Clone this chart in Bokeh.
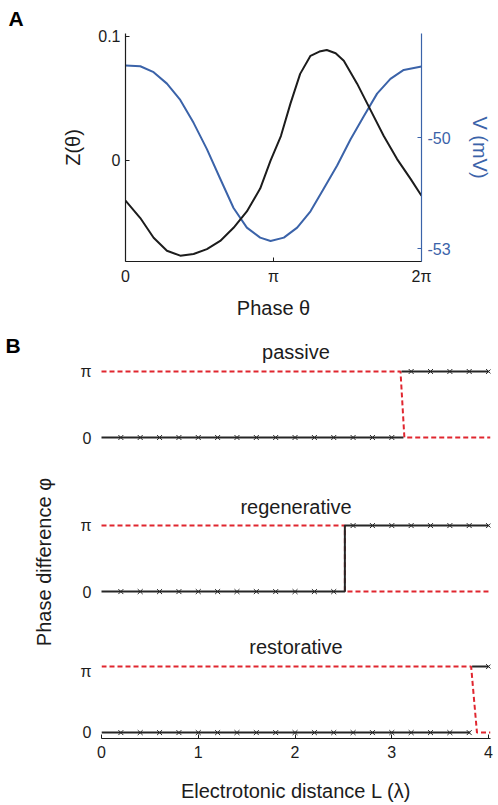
import math
from bokeh.plotting import figure
from bokeh.models import Range1d, LinearAxis, FixedTicker
from bokeh.core.properties import value
from bokeh.embed import file_html
from bokeh.resources import INLINE

FONT = "Liberation Sans"
BLUE = "#3b63a9"
RED = "#e0262f"
BLACK = "#1c1c1c"
LINE_BLACK = "#262626"

# ---------------- Panel A data (phase in units of pi) ----------------
theta_z = [0.0, 0.10, 0.19, 0.28, 0.37, 0.46, 0.55, 0.64, 0.73, 0.82, 0.91, 0.98,
           1.05, 1.115, 1.18, 1.25, 1.31, 1.36, 1.42, 1.475, 1.565, 1.655, 1.745,
           1.835, 1.925, 2.0]
z_vals = [-0.0325, -0.0466, -0.0625, -0.0730, -0.0770, -0.0756, -0.0717, -0.0651,
          -0.0545, -0.0413, -0.0228, -0.0002, 0.0196, 0.0460, 0.0698, 0.0844,
          0.0878, 0.0891, 0.0865, 0.0804, 0.0619, 0.0407, 0.0196, 0.0010,
          -0.0148, -0.0286]
theta_v = [0.0, 0.10, 0.19, 0.28, 0.37, 0.46, 0.55, 0.64, 0.73, 0.82, 0.91, 0.98,
           1.07, 1.16, 1.25, 1.34, 1.43, 1.52, 1.61, 1.70, 1.79, 1.88, 2.0]
v_vals = [-48.05, -48.07, -48.23, -48.54, -48.98, -49.60, -50.31, -51.11, -51.90,
          -52.43, -52.70, -52.79, -52.70, -52.43, -51.99, -51.37, -50.75, -50.05,
          -49.42, -48.81, -48.41, -48.17, -48.08]
theta_ticks = [0, 1, 2]
theta_labels = ["0", "\u03c0", "2\u03c0"]
z_ticks = [0, 0.1]
z_labels = ["0", "0.1"]
v_ticks = [-53, -50]
v_labels = ["-53", "-50"]

# ---------------- Panel B data (phase difference in units of pi) ----------------
L_marks = [0.2, 0.4, 0.6, 0.8, 1.0, 1.2, 1.4, 1.6, 1.8, 2.0,
           2.2, 2.4, 2.6, 2.8, 3.0, 3.2, 3.4, 3.6, 3.8, 4.0]
passive_phi = [0, 0, 0, 0, 0, 0, 0, 0, 0, 0, 0, 0, 0, 0, 0, 1, 1, 1, 1, 1]
regenerative_phi = [0, 0, 0, 0, 0, 0, 0, 0, 0, 0, 0, 0, 1, 1, 1, 1, 1, 1, 1, 1]
restorative_phi = [0, 0, 0, 0, 0, 0, 0, 0, 0, 0, 0, 0, 0, 0, 0, 0, 0, 0, 0, 1]

passive_black_L = [[0, 3.12], [3.10, 4.0]]
passive_black_phi = [[0, 0], [1, 1]]
regenerative_black_L = [[0, 2.515, 2.515, 4.0]]
regenerative_black_phi = [[0, 0, 1, 1]]
restorative_black_L = [[0, 3.81], [3.83, 4.0]]
restorative_black_phi = [[0, 0], [1, 1]]

passive_red_L = [0, 3.09, 3.13, 4.02]
regenerative_red_L = [0, 2.515, 2.515, 4.02]
restorative_red_L = [0, 3.82, 3.88, 4.02]
red_phi = [1, 1, 0, 0]

L_ticks = [0, 1, 2, 3, 4]
phi_ticks = [0, 1]
phi_labels = ["0", "\u03c0"]
panel_titles = ["passive", "regenerative", "restorative"]
y_title_B = "Phase difference \u03c6"
x_title_B = "Electrotonic distance L (\u03bb)"


def style_axis(ax, color=BLACK, label_standoff=10, tick_standoff=6):
    ax.axis_line_color = color
    ax.axis_line_width = 1.2
    ax.major_tick_line_color = color
    ax.major_tick_in = 4
    ax.major_tick_out = 0
    ax.minor_tick_line_color = None
    ax.major_label_text_font = FONT
    ax.major_label_text_font_size = "16px"
    ax.major_label_text_color = color
    ax.major_label_standoff = tick_standoff
    ax.axis_label_text_font = FONT
    ax.axis_label_text_font_size = "20px"
    ax.axis_label_text_font_style = "normal"
    ax.axis_label_text_color = color
    ax.axis_label_standoff = label_standoff


def bare(p):
    p.xgrid.visible = False
    p.ygrid.visible = False
    p.outline_line_color = None


# ---------------- Panel A ----------------
pA = figure(width=496, height=323, x_range=Range1d(0, 2),
            y_range=Range1d(-0.0817, 0.1024),
            output_backend="svg", toolbar_location=None,
            min_border_left=125, min_border_right=75,
            min_border_top=29, min_border_bottom=62)
bare(pA)
pA.title.text = "A"
pA.title.align = "left"
pA.title.offset = -117
pA.title.standoff = 8
pA.title.text_font = FONT
pA.title.text_font_size = "21px"
pA.title.text_font_style = "bold"
pA.title.text_color = "black"
pA.extra_y_ranges = {"v": Range1d(-53.345, -47.186)}

pA.line(theta_v, v_vals, color=BLUE, line_width=2, y_range_name="v")
pA.line(theta_z, z_vals, color=BLACK, line_width=2)

pA.xaxis.ticker = FixedTicker(ticks=theta_ticks)
pA.xaxis.major_label_overrides = dict(zip(theta_ticks, theta_labels))
pA.xaxis.axis_label = "Phase \u03b8"
style_axis(pA.xaxis[0], label_standoff=9, tick_standoff=6)

pA.yaxis.ticker = FixedTicker(ticks=z_ticks)
pA.yaxis.major_label_overrides = dict(zip(z_ticks, z_labels))
pA.yaxis.axis_label = "Z(\u03b8)"
style_axis(pA.yaxis[0], label_standoff=11, tick_standoff=5)

ax_v = LinearAxis(y_range_name="v", axis_label="V (mV)",
                  ticker=FixedTicker(ticks=v_ticks),
                  major_label_overrides=dict(zip(v_ticks, v_labels)))
style_axis(ax_v, color=BLUE, label_standoff=15, tick_standoff=6)
pA.add_layout(ax_v, "right")


# ---------------- Panel B ----------------
# shared horizontal scale: L = 0 at page x 101, L = 4.02 at page x 490
PX_PER_L = 389 / 4.02
PX_PER_PHI = 66.02
L_LEFT_EDGE = -101 / PX_PER_L  # L value at the page's left edge


def draw_traces(p, black_L, black_phi, red_L, phi):
    p.line(red_L, red_phi, color=RED, line_width=2, line_dash="5 3")
    p.multi_line(black_L, black_phi, color=LINE_BLACK, line_width=2)
    p.scatter(L_marks, phi, marker="x", size=7, line_color=LINE_BLACK, line_width=1)


def text_fig(top, height, zero_y):
    """Figure whose frame fills the canvas (so its texts are in data space).
    top: page y of the canvas top; zero_y: page y of phase 0."""
    y_lo = -(top + height - zero_y) / PX_PER_PHI
    y_hi = (zero_y - top) / PX_PER_PHI
    p = figure(width=496, height=height, x_range=Range1d(L_LEFT_EDGE, 4.02),
               y_range=Range1d(y_lo, y_hi), title=None,
               output_backend="svg", toolbar_location=None,
               min_border_left=0, min_border_right=6,
               min_border_top=0, min_border_bottom=0)
    bare(p)
    p.xaxis.visible = False
    p.yaxis.visible = False
    to_y = lambda page_y: (zero_y - page_y) / PX_PER_PHI
    to_x = lambda page_x: (page_x - 101) / PX_PER_L
    p.text(x=[to_x(91)] * 2, y=phi_ticks, text=phi_labels,
           text_font=value(FONT), text_font_size="16px", text_color=BLACK,
           text_align="right", text_baseline="middle")
    return p, to_x, to_y


def add_title(p, to_x, to_y, label, center_page_y):
    p.text(x=[to_x(295.5)], y=[to_y(center_page_y)], text=[label],
           text_font=value(FONT), text_font_size="20px", text_color=BLACK,
           text_align="center", text_baseline="middle")


# B1 : passive  (page y 323 .. 470)
pB1, tx1, ty1 = text_fig(323, 147, 437.0)
draw_traces(pB1, passive_black_L, passive_black_phi, passive_red_L, passive_phi)
add_title(pB1, tx1, ty1, panel_titles[0], 351.5)
pB1.text(x=[tx1(5)], y=[ty1(344.7)], text=["B"], text_font=value(FONT),
         text_font_size="21px", text_font_style="bold", text_color="black",
         text_align="left", text_baseline="middle")

# B2 : regenerative (page y 470 .. 662) incl. shared y title and next title
pB2, tx2, ty2 = text_fig(470, 192, 591.1)
draw_traces(pB2, regenerative_black_L, regenerative_black_phi,
            regenerative_red_L, regenerative_phi)
add_title(pB2, tx2, ty2, panel_titles[1], 506.3)
add_title(pB2, tx2, ty2, panel_titles[2], 646.5)
pB2.text(x=[tx2(43)], y=[ty2(561.5)], text=[y_title_B], angle=math.pi / 2,
         text_font=value(FONT), text_font_size="20px", text_color=BLACK,
         text_align="center", text_baseline="middle")

# B3 : restorative (page y 662 .. 805), frame 662 .. 738, phase 0 at 732.1
b3_zero, b3_top, b3_bottom = 732.1, 662, 738
pB3 = figure(width=496, height=143, x_range=Range1d(0, 4.02),
             y_range=Range1d(-(b3_bottom - b3_zero) / PX_PER_PHI,
                             (b3_zero - b3_top) / PX_PER_PHI),
             title=None, output_backend="svg", toolbar_location=None,
             min_border_left=101, min_border_right=6,
             min_border_top=0, min_border_bottom=67)
bare(pB3)
draw_traces(pB3, restorative_black_L, restorative_black_phi,
            restorative_red_L, restorative_phi)
pB3.yaxis.ticker = FixedTicker(ticks=phi_ticks)
pB3.yaxis.major_label_overrides = dict(zip(phi_ticks, phi_labels))
style_axis(pB3.yaxis[0], tick_standoff=10)
pB3.yaxis.axis_line_color = None
pB3.yaxis.major_tick_line_color = None
pB3.xaxis.ticker = FixedTicker(ticks=L_ticks)
pB3.xaxis.axis_label = x_title_B
style_axis(pB3.xaxis[0], label_standoff=19, tick_standoff=7)

with open("out.html", "w") as f:
    f.write(file_html([pA, pB1, pB2, pB3], INLINE))
